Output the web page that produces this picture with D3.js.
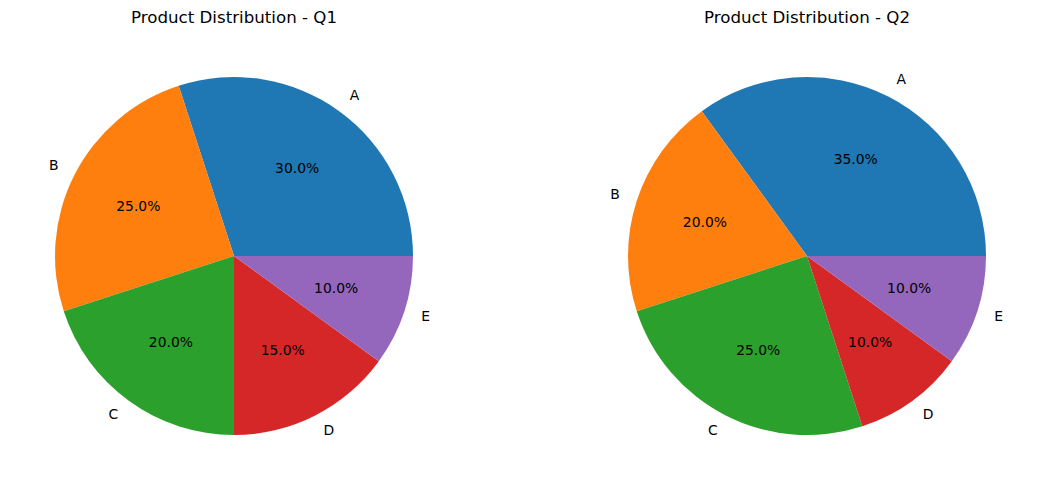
<!DOCTYPE html>
<html>
<head>
<meta charset="utf-8">
<script src="https://cdn.jsdelivr.net/npm/d3@7"></script>
<style>
  html, body { margin: 0; padding: 0; background: #ffffff; }
  svg { display: block; }
  text { font-family: "DejaVu Sans", sans-serif; fill: #000; }
</style>
</head>
<body>
<svg id="chart" width="1041" height="490"></svg>
<script>
const categories = ["A", "B", "C", "D", "E"];
const q1Values = [30, 25, 20, 15, 10];
const q2Values = [35, 20, 25, 10, 10];
const titles = ["Product Distribution - Q1", "Product Distribution - Q2"];
const colors = ["#1f77b4", "#ff7f0e", "#2ca02c", "#d62728", "#9467bd"];

const svg = d3.select("#chart");
const radius = 179;
const centers = [[234, 256], [807, 256]];
const seriesList = [q1Values, q2Values];

const color = d3.scaleOrdinal().domain(categories).range(colors);

// matplotlib-style: start at 3 o'clock, counter-clockwise
const pie = d3.pie()
  .sort(null)
  .value(d => d.value)
  .startAngle(Math.PI / 2)
  .endAngle(Math.PI / 2 - 2 * Math.PI);

const arc = d3.arc().innerRadius(0).outerRadius(radius);

seriesList.forEach((vals, idx) => {
  const [cx, cy] = centers[idx];
  const data = categories.map((c, i) => ({ cat: c, value: vals[i] }));
  const total = d3.sum(vals);
  const arcs = pie(data);
  const g = svg.append("g").attr("transform", `translate(${cx},${cy})`);

  g.selectAll("path.slice")
    .data(arcs)
    .join("path")
    .attr("class", "slice")
    .attr("d", arc)
    .attr("fill", d => color(d.data.cat));

  const mid = d => (d.startAngle + d.endAngle) / 2;

  g.selectAll("text.lab")
    .data(arcs)
    .join("text")
    .attr("class", "lab")
    .attr("x", d => Math.sin(mid(d)) * radius * 1.1)
    .attr("y", d => -Math.cos(mid(d)) * radius * 1.1)
    .attr("dy", "0.27em")
    .attr("text-anchor", d => Math.sin(mid(d)) > 0 ? "start" : "end")
    .style("font-size", "13.9px")
    .text(d => d.data.cat);

  g.selectAll("text.pct")
    .data(arcs)
    .join("text")
    .attr("class", "pct")
    .attr("x", d => Math.sin(mid(d)) * radius * 0.6)
    .attr("y", d => -Math.cos(mid(d)) * radius * 0.6)
    .attr("dy", "0.27em")
    .attr("text-anchor", "middle")
    .style("font-size", "13.9px")
    .text(d => (d.data.value / total * 100).toFixed(1) + "%");

  svg.append("text")
    .attr("x", cx)
    .attr("y", 23.3)
    .attr("text-anchor", "middle")
    .style("font-size", "16.67px")
    .text(titles[idx]);
});
</script>
</body>
</html>
